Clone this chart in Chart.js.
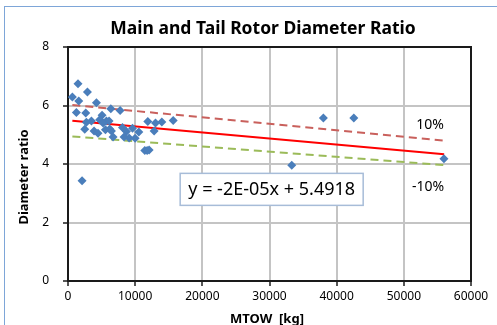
<!DOCTYPE html>
<html>
<head>
<meta charset="utf-8">
<script src="https://cdn.jsdelivr.net/npm/chart.js@4.4.1/dist/chart.umd.min.js"></script>
<style>
  html, body { margin: 0; padding: 0; background: #fff; overflow: hidden; }
  #wrap { position: relative; width: 497px; height: 325px; }
  #frame { position: absolute; left: 4px; top: 6px; width: 600px; height: 400px; border: 1px solid #7ea6d8; }
  canvas { position: absolute; left: 0; top: 0; }
</style>
</head>
<body>
<div id="wrap">
  <div id="frame"></div>
  <canvas id="chart" width="497" height="325"></canvas>
</div>
<script>
// scatter data: MTOW [kg] vs main/tail rotor diameter ratio
const mtow = [1490, 2890, 650, 1600, 4230, 1250, 2640, 6370, 7760, 5070,
              3490, 2740, 4720, 5720, 6110, 5220, 2490, 3880, 4470, 5570,
              6220, 6470, 8110, 8700, 9600, 10540, 6710, 8350, 9100, 9990,
              11880, 13030, 13970, 15660, 12820, 11440, 11780, 12080, 2090,
              38020, 42550, 55970, 33310];
const ratio = [6.74, 6.46, 6.29, 6.15, 6.09, 5.76, 5.74, 5.89, 5.83, 5.67,
               5.47, 5.43, 5.51, 5.47, 5.47, 5.40, 5.19, 5.13, 5.05, 5.17,
               5.20, 5.13, 5.25, 5.11, 5.22, 5.09, 4.92, 4.92, 4.89, 4.88,
               5.45, 5.40, 5.44, 5.49, 5.13, 4.46, 4.46, 4.48, 3.43,
               5.57, 5.57, 4.18, 3.96];

// trend line and +/-10% band, end points
const trendX = [650, 56000];
const trendY = [5.48, 4.33];
const upperY = [6.02, 4.80];
const lowerY = [4.94, 3.96];

const xTicks = [0, 10000, 20000, 30000, 40000, 50000, 60000];
const yTicks = [0, 2, 4, 6, 8];

const titleText = 'Main and Tail Rotor Diameter Ratio';
const xTitle = 'MTOW  [kg]';
const yTitle = 'Diameter ratio';
const equation = 'y = -2E-05x + 5.4918';

const FONT = "'Noto Sans', sans-serif";

function pts(xs, ys) {
    return xs.map((x, i) => ({ x: x, y: ys[i] }));
}

// titles, band labels and the equation box
const labelsPlugin = {
    id: 'labels',
    beforeDatasetsDraw(chart) {
        const { ctx, chartArea: a } = chart;
        ctx.save();
        ctx.strokeStyle = '#1a1a1a';
        ctx.lineWidth = 2;
        ctx.strokeRect(a.left, a.top, a.right - a.left, a.bottom - a.top);
        ctx.restore();
    },
    afterDraw(chart) {
        const { ctx, scales } = chart;
        const xs = scales.x, ys = scales.y;
        ctx.save();
        ctx.fillStyle = '#000';
        ctx.textAlign = 'center';
        ctx.textBaseline = 'middle';

        ctx.font = 'bold 17.5px ' + FONT;
        ctx.fillText(titleText, 263, 29);

        ctx.font = 'bold 13px ' + FONT;
        ctx.fillText(xTitle, 267, 319);

        ctx.save();
        ctx.translate(24, 177);
        ctx.rotate(-Math.PI / 2);
        ctx.fillText(yTitle, 0, 0);
        ctx.restore();

        ctx.font = '14px ' + FONT;
        ctx.fillText('10%', xs.getPixelForValue(53900), ys.getPixelForValue(5.32));
        ctx.fillText('-10%', xs.getPixelForValue(53600), ys.getPixelForValue(3.20));

        // equation box
        const bx = xs.getPixelForValue(16700), by = ys.getPixelForValue(3.68);
        const bw = 183, bh = 32;
        ctx.fillStyle = '#fff';
        ctx.fillRect(bx, by, bw, bh);
        ctx.strokeStyle = '#a7bcd8';
        ctx.lineWidth = 1.5;
        ctx.strokeRect(bx, by, bw, bh);
        ctx.fillStyle = '#000';
        ctx.font = '18px ' + FONT;
        ctx.fillText(equation, bx + bw / 2, by + bh / 2 + 1);
        ctx.restore();
    }
};

const ctx = document.getElementById('chart').getContext('2d');
new Chart(ctx, {
    type: 'scatter',
    data: {
        datasets: [
            {
                label: 'data',
                data: pts(mtow, ratio),
                pointStyle: 'rectRot',
                pointRadius: 4.5,
                backgroundColor: '#4a7ebb',
                borderColor: '#4a7ebb',
                borderWidth: 0,
                order: 0
            },
            {
                label: 'trend',
                type: 'line',
                data: pts(trendX, trendY),
                borderColor: '#ff0000',
                borderWidth: 2,
                pointRadius: 0,
                order: 1
            },
            {
                label: '+10%',
                type: 'line',
                data: pts(trendX, upperY),
                borderColor: '#c9605c',
                borderWidth: 2,
                borderDash: [8, 5],
                pointRadius: 0,
                order: 2
            },
            {
                label: '-10%',
                type: 'line',
                data: pts(trendX, lowerY),
                borderColor: '#9bbb59',
                borderWidth: 2,
                borderDash: [8, 5],
                pointRadius: 0,
                order: 3
            }
        ]
    },
    options: {
        responsive: false,
        animation: false,
        layout: { padding: { top: 47, right: 26, left: 0, bottom: 0 } },
        plugins: {
            legend: { display: false },
            tooltip: { enabled: false }
        },
        scales: {
            x: {
                type: 'linear',
                min: 0,
                max: 60000,
                afterBuildTicks: s => { s.ticks = xTicks.map(v => ({ value: v })); },
                afterFit: s => { s.height = 44; },
                ticks: {
                    callback: v => String(v),
                    color: '#000',
                    font: { family: FONT, size: 12 },
                    padding: 3,
                    maxRotation: 0
                },
                grid: { color: '#c4c4c4', lineWidth: 2, tickLength: 5, tickColor: '#555' },
                border: { color: '#1a1a1a', width: 2 }
            },
            y: {
                min: 0,
                max: 8,
                afterBuildTicks: s => { s.ticks = yTicks.map(v => ({ value: v })); },
                afterFit: s => { s.width = 68; },
                ticks: {
                    color: '#000',
                    font: { family: FONT, size: 12 },
                    padding: 14
                },
                grid: { color: '#c4c4c4', lineWidth: 2, tickLength: 5, tickColor: '#555' },
                border: { color: '#1a1a1a', width: 2 }
            }
        }
    },
    plugins: [labelsPlugin]
});
</script>
</body>
</html>
